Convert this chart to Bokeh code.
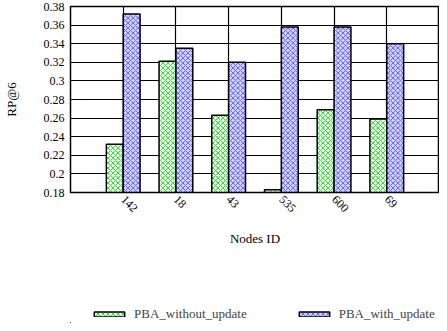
import math
from bokeh.plotting import figure
from bokeh.layouts import column
from bokeh.models import Range1d, FixedTicker, ColumnDataSource, Legend, LegendItem
from bokeh.embed import file_html
from bokeh.resources import INLINE

nodes = ["142", "18", "43", "535", "600", "69"]
without_update = [0.232, 0.321, 0.263, 0.183, 0.269, 0.259]
with_update = [0.372, 0.335, 0.320, 0.358, 0.358, 0.340]
y_ticks = [0.18, 0.20, 0.22, 0.24, 0.26, 0.28, 0.30, 0.32, 0.34, 0.36, 0.38]
y_tick_labels = ["0.18", "0.2", "0.22", "0.24", "0.26", "0.28", "0.3", "0.32", "0.34", "0.36", "0.38"]
series_names = ["PBA_without_update", "PBA_with_update"]

FONT = "'Liberation Serif', 'Times New Roman', serif"
bw = 0.32
pos = list(range(1, len(nodes) + 1))

styles = [dict(fill_color="#eaffea", line_color="black", line_width=1.5,
               hatch_pattern="x", hatch_color="#3ddc3d", hatch_scale=5, hatch_weight=1),
          dict(fill_color="#cfcfff", line_color="black", line_width=1.5,
               hatch_pattern="x", hatch_color="#6b6bff", hatch_scale=5, hatch_weight=1)]

src = ColumnDataSource(dict(
    x_wo=[p - bw / 2 for p in pos],
    x_w=[p + bw / 2 for p in pos],
    wo=without_update,
    w=with_update,
))

p = figure(width=439, height=250, output_backend="svg", toolbar_location=None,
           x_range=Range1d(0, len(nodes) + 1), y_range=Range1d(y_ticks[0], y_ticks[-1]),
           min_border_left=69, min_border_right=0, min_border_top=6, min_border_bottom=58)
p.background_fill_color = "white"
p.border_fill_color = "white"
p.outline_line_color = "black"
p.outline_line_width = 1.5

p.vbar(x="x_wo", top="wo", bottom=y_ticks[0], width=bw, source=src, **styles[0])
p.vbar(x="x_w", top="w", bottom=y_ticks[0], width=bw, source=src, **styles[1])

p.xaxis.ticker = FixedTicker(ticks=pos)
p.xaxis.major_label_overrides = {pp: n for pp, n in zip(pos, nodes)}
p.xaxis.major_label_orientation = -math.pi / 4
p.xaxis.axis_label = "Nodes ID"
p.yaxis.ticker = FixedTicker(ticks=y_ticks)
p.yaxis.major_label_overrides = {t: l for t, l in zip(y_ticks, y_tick_labels)}
p.yaxis.axis_label = "RP@6"
p.yaxis.axis_label_standoff = 22
p.xaxis.axis_label_standoff = 12

for ax in (p.xaxis, p.yaxis):
    ax.axis_line_color = "black"
    ax.major_tick_line_color = None
    ax.minor_tick_line_color = None
    ax.major_tick_out = 0
    ax.major_tick_in = 0
    ax.major_label_text_font = FONT
    ax.major_label_text_font_size = "12px"
    ax.major_label_text_color = "black"
    ax.axis_label_text_font = FONT
    ax.axis_label_text_font_size = "13px"
    ax.axis_label_text_font_style = "normal"
    ax.axis_label_text_color = "black"
p.yaxis.major_label_standoff = 6
p.xaxis.major_label_standoff = 5

p.xgrid.ticker = FixedTicker(ticks=pos)
p.ygrid.ticker = FixedTicker(ticks=y_ticks)
p.grid.grid_line_color = "black"
p.grid.grid_line_width = 1.2

# legend strip below the chart (its bars lie far outside its visible range; only the legend shows)
lf = figure(width=439, height=73, output_backend="svg", toolbar_location=None,
            x_axis_type=None, y_axis_type=None, x_range=Range1d(100, 101), y_range=Range1d(100, 101),
            min_border=0, min_border_left=0, min_border_right=0, min_border_top=0, min_border_bottom=0)
lf.outline_line_color = None
lf.grid.visible = False
lf.background_fill_color = "white"
lf.border_fill_color = "white"
items = []
for name, col, st in zip(series_names, ["wo", "w"], styles):
    rr = lf.vbar(x="x_wo", top=col, bottom=y_ticks[0], width=bw, source=src, **st)
    items.append(LegendItem(label=name, renderers=[rr]))
legend = Legend(items=items, orientation="horizontal", location=(20, 1),
                glyph_width=38, glyph_height=6, spacing=48, padding=0, margin=0,
                label_standoff=6, label_text_font=FONT, label_text_font_size="13px",
                border_line_color=None, background_fill_alpha=0)
lf.add_layout(legend, "center")

open("out.html", "w").write(file_html(column(p, lf, spacing=0), INLINE))
